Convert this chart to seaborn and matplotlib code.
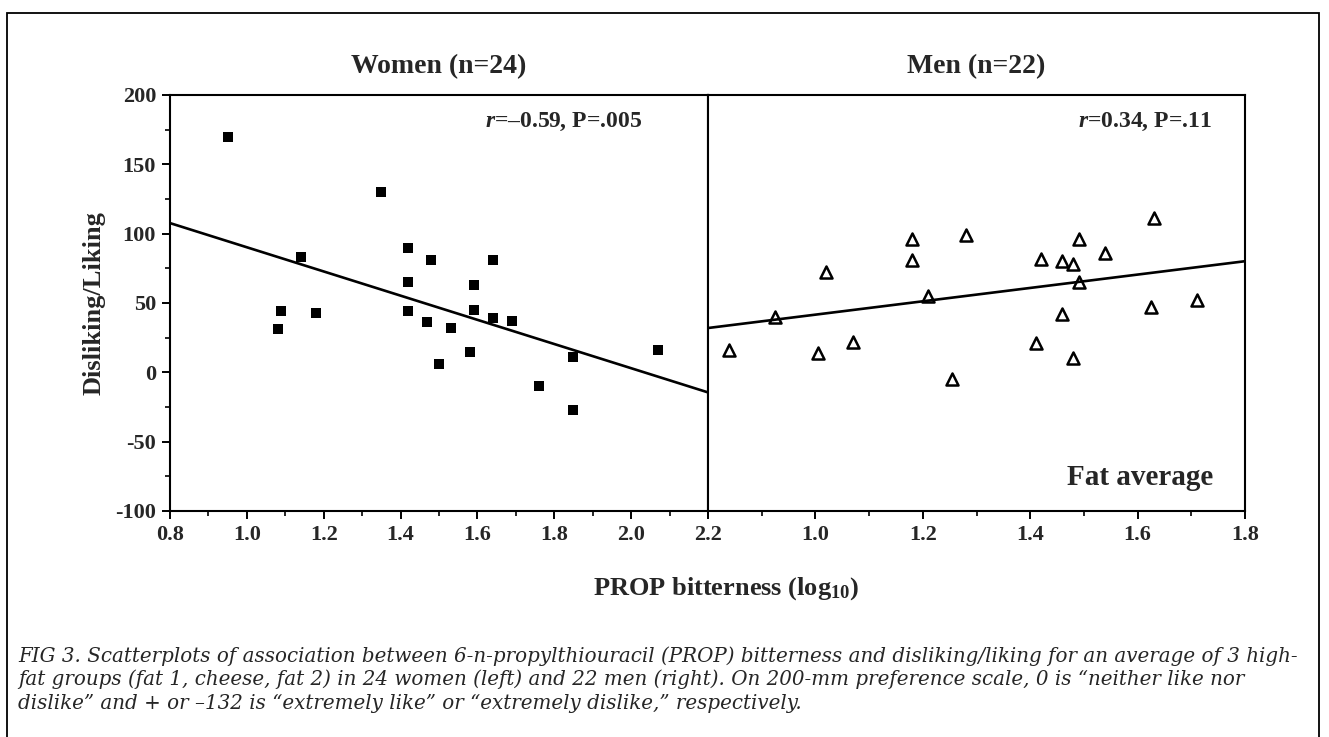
import numpy as np
import pandas as pd
import seaborn as sns
import matplotlib.pyplot as plt
from matplotlib.ticker import MultipleLocator
from matplotlib.patches import Rectangle

# values
women_prop = [0.95, 1.35, 1.14, 1.09, 1.08, 1.18, 1.42, 1.48, 1.64, 1.42, 1.59, 1.42,
              1.59, 1.47, 1.53, 1.64, 1.69, 1.58, 1.50, 1.76, 1.85, 1.85, 2.07, 1.09]
women_like = [170, 130, 83, 44.5, 31, 43, 90, 81, 81, 65.5, 63, 44.5,
              45, 36.5, 32, 39.5, 37, 15, 6, -10, 11, -27, 16, 44.5]

men_prop = [0.84, 0.925, 1.02, 1.005, 1.07, 1.18, 1.18, 1.21, 1.28, 1.255, 1.42,
            1.46, 1.48, 1.49, 1.49, 1.54, 1.46, 1.41, 1.48, 1.63, 1.625, 1.71]
men_like = [16, 40, 72, 14, 22, 96, 81, 55, 99, -5, 82,
            80, 78, 96, 65, 86, 42, 21, 10, 111, 47, 52]

women_xticks = [0.8, 1.0, 1.2, 1.4, 1.6, 1.8, 2.0, 2.2]
men_xticks = [0.8, 1.0, 1.2, 1.4, 1.6, 1.8]
men_xlabels = ['', '1.0', '1.2', '1.4', '1.6', '1.8']
yticks = [200, 150, 100, 50, 0, -50, -100]
ylabels = ['200', '150', '100', '50', '0', '-50', '-100']

women = pd.DataFrame({'prop': women_prop, 'like': women_like})
men = pd.DataFrame({'prop': men_prop, 'like': men_like})

sns.set_theme(style='ticks')
plt.rcParams['font.family'] = ['Liberation Serif', 'DejaVu Serif']
plt.rcParams['font.weight'] = 'bold'
plt.rcParams['mathtext.fontset'] = 'custom'
plt.rcParams['mathtext.rm'] = 'Liberation Serif:bold'
plt.rcParams['mathtext.it'] = 'Liberation Serif:italic:bold'
plt.rcParams['mathtext.bf'] = 'Liberation Serif:bold'

fig = plt.figure(figsize=(13.29, 7.37), dpi=100)
axL = fig.add_axes([170 / 1329, 1 - 511 / 737, 538 / 1329, 416 / 737])
axR = fig.add_axes([708 / 1329, 1 - 511 / 737, 537 / 1329, 416 / 737])

for ax in (axL, axR):
    ax.set_ylim(-100, 200)
    for s in ax.spines.values():
        s.set_linewidth(1.5)
        s.set_color('black')
        s.set_visible(True)
    ax.tick_params(which='major', direction='out', length=6, width=1.4,
                   labelsize=16, color='black', pad=4)
    ax.tick_params(which='minor', direction='out', length=3.5, width=1.2, color='black')
    ax.xaxis.set_minor_locator(MultipleLocator(0.1))
    ax.yaxis.set_minor_locator(MultipleLocator(25))

axL.set_xlim(0.8, 2.2)
axR.set_xlim(0.8, 1.8)

sns.regplot(data=women, x='prop', y='like', ax=axL, ci=None, truncate=False,
            color='black', marker='s',
            scatter_kws={'s': 55, 'alpha': 1, 'linewidths': 0},
            line_kws={'linewidth': 1.9})
sns.regplot(data=men, x='prop', y='like', ax=axR, ci=None, truncate=False,
            color='black', marker='^',
            scatter_kws={'s': 75, 'alpha': 1, 'facecolors': 'white',
                         'edgecolors': 'black', 'linewidths': 1.8},
            line_kws={'linewidth': 1.9})

axL.set_xticks(women_xticks, [f'{v:.1f}' for v in women_xticks])
axL.set_yticks(yticks, ylabels)
axR.set_xticks(men_xticks, men_xlabels)
axR.set_yticks(yticks)
axR.tick_params(axis='y', which='both', left=False, labelleft=False)
for ax in (axL, axR):
    ax.set_xlabel('')
    ax.set_ylabel('')
    for lab in ax.get_xticklabels() + ax.get_yticklabels():
        lab.set_fontweight('bold')
axL.set_xlim(0.8, 2.2)
axR.set_xlim(0.8, 1.8)

axL.set_ylabel('Disliking/Liking', fontsize=19, fontweight='bold', labelpad=7)
axL.set_title('Women (n=24)', fontsize=20, fontweight='bold', pad=16)
axR.set_title('Men (n=22)', fontsize=20, fontweight='bold', pad=16)

axL.text(0.877, 0.935, '$r$=\u20130.59, P=.005', transform=axL.transAxes,
         ha='right', va='center', fontsize=17, fontweight='bold')
axR.text(0.938, 0.935, '$r$=0.34, P=.11', transform=axR.transAxes,
         ha='right', va='center', fontsize=17, fontweight='bold')
axR.text(0.94, 0.08, 'Fat average', transform=axR.transAxes,
         ha='right', va='center', fontsize=21, fontweight='bold')

fig.text(726 / 1329, 1 - 589 / 737, 'PROP bitterness (log$_{10}$)',
         ha='center', va='center', fontsize=19, fontweight='bold')

caption = ['FIG 3. Scatterplots of association between 6-n-propylthiouracil (PROP) bitterness and disliking/liking for an average of 3 high-',
           'fat groups (fat 1, cheese, fat 2) in 24 women (left) and 22 men (right). On 200-mm preference scale, 0 is \u201cneither like nor',
           'dislike\u201d and + or \u2013132 is \u201cextremely like\u201d or \u201cextremely dislike,\u201d respectively.']
for i, line in enumerate(caption):
    fig.text(18 / 1329, 1 - (656 + 23.5 * i) / 737, line, ha='left', va='center',
             fontsize=14.3, fontstyle='italic', fontweight='normal',
             family=['DejaVu Serif'])

fig.patches.append(Rectangle((7 / 1329, -0.01), 1312 / 1329, 1.01 - 13 / 737,
                             transform=fig.transFigure, fill=False,
                             edgecolor='black', linewidth=1.3))

fig.savefig('out.png', dpi=100, facecolor='white')
